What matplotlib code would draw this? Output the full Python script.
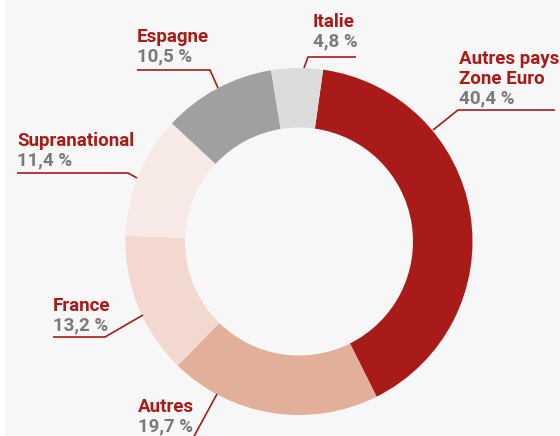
import matplotlib.pyplot as plt
from matplotlib import font_manager

# data
names = ['Autres pays\nZone Euro', 'Autres', 'France', 'Supranational', 'Espagne', 'Italie']
values = [40.4, 19.7, 13.2, 11.4, 10.5, 4.8]
value_labels = ['40,4 %', '19,7 %', '13,2 %', '11,4 %', '10,5 %', '4,8 %']
colors = ['#a81b18', '#e2b09a', '#f2d8ce', '#f7e9e5', '#a0a0a0', '#dcdcdc']

RED = '#a81b18'
GREY = '#7a7a7a'
W, H = 560, 436

avail = set(f.name for f in font_manager.fontManager.ttflist)
fam = [f for f in ['Liberation Sans Narrow', 'Roboto', 'DejaVu Sans'] if f in avail]

fig = plt.figure(figsize=(W / 100, H / 100), dpi=100, facecolor='white')
ax = fig.add_axes([5 / W, 0, 1 - 5 / W, 1])
ax.set_facecolor('#f7f7f7')

ax.pie(values, colors=colors, startangle=82, counterclock=False,
       center=(299, H - 241.5), radius=173.5, frame=True,
       wedgeprops=dict(width=173.5 - 114, linewidth=0))
ax.set_xlim(5, W)
ax.set_ylim(0, H)
ax.set_aspect('equal')
for s in ax.spines.values():
    s.set_visible(False)
ax.set_xticks([])
ax.set_yticks([])

def Y(p):
    return H - p

# label layout in pixel coords: text x, first baseline y, leader polyline
layout = [
    (459, 64, [(555, 110), (458, 110), (433, 130)]),
    (138, 412, [(217, 394), (192, 440)]),
    (53, 311, [(53, 337), (105, 337), (143, 315)]),
    (17, 146, [(17, 173), (128, 173), (137, 178)]),
    (137, 42, [(137, 70), (210, 70), (218, 88)]),
    (313, 27, [(356, 57), (308, 57), (304, 68)]),
]

for name, val, (tx, ty, pts) in zip(names, value_labels, layout):
    lines = name.split('\n')
    for i, ln in enumerate(lines):
        ax.text(tx, Y(ty + 20 * i), ln, color=RED, fontsize=13.5, fontweight='bold',
                family=fam, va='baseline', ha='left')
    ax.text(tx, Y(ty + 20 * len(lines) - 1), val, color=GREY, fontsize=13.5,
            fontweight='bold', family=fam, va='baseline', ha='left')
    ax.plot([p[0] for p in pts], [Y(p[1]) for p in pts], color=RED, lw=1.2,
            solid_capstyle='butt', clip_on=False)

fig.savefig('out.png', dpi=100, facecolor='white')
